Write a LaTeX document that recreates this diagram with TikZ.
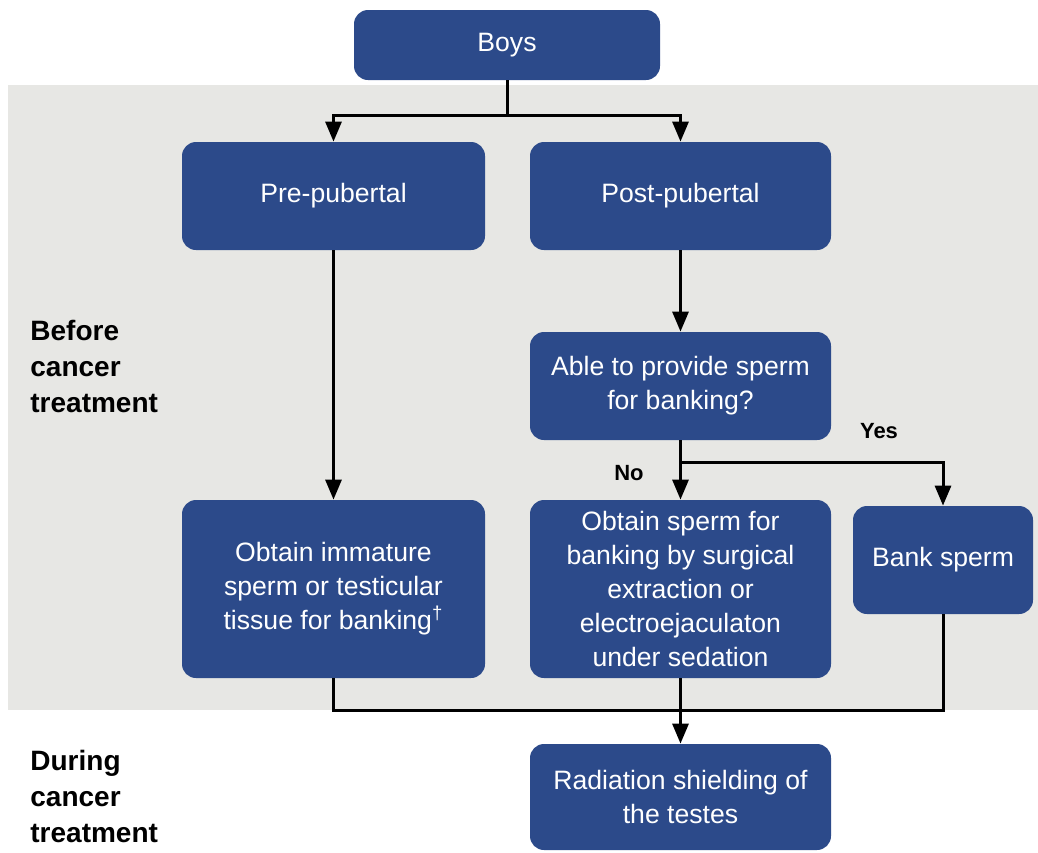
\documentclass[tikz,border=0pt]{standalone}
\usepackage{fontspec}
\setmainfont{Liberation Sans}
\usetikzlibrary{positioning,arrows.meta}
\definecolor{color_box_default}{HTML}{2C4A8A}
\definecolor{color_band_default}{HTML}{E7E7E4}

\begin{document}
\begin{tikzpicture}[x=0.5pt,y=-0.5pt,
		box/.style={rounded corners=7pt,fill=color_box_default,text=white,
			font=\fontsize{13.3}{17}\selectfont,align=center,inner sep=0pt},
		link/.style={line width=1.5pt,black},
		arrow/.style={link,-{Triangle[length=10pt,width=8pt]}},
		side/.style={font=\fontsize{14}{18}\bfseries\selectfont,align=left,inner sep=0pt,anchor=north west},
		answer/.style={font=\fontsize{11}{13}\bfseries\selectfont,inner sep=0pt}]
				\useasboundingbox (0,0) rectangle (1038,852);
				% Band behind the steps before treatment
				\fill[color_band_default] (8,85) rectangle (1038,710);

				% Boxes
				\node[box,minimum width=153pt,minimum height=35pt] (boys) at (507,45) {Boys};
				\node[box,minimum width=151.5pt,minimum height=54pt] (prepub) at (333.5,196) {Pre-pubertal};
				\node[box,minimum width=150.5pt,minimum height=54pt] (postpub) at (680.5,196) {Post-pubertal};
				\node[box,minimum width=150.5pt,minimum height=54pt] (able) at (680.5,386)
					{Able to provide sperm\\for banking?};
				\node[box,minimum width=151.5pt,minimum height=89pt] (immature) at (333.5,589)
					{Obtain immature\\sperm or testicular\\tissue for banking\textsuperscript{†}};
				\node[box,minimum width=150.5pt,minimum height=89pt] (surgical) at (680.5,589)
					{Obtain sperm for\\banking by surgical\\extraction or\\electroejaculaton\\under sedation};
				\node[box,minimum width=90pt,minimum height=54pt] (bank) at (943,560) {Bank sperm};
				\node[box,minimum width=150.5pt,minimum height=53pt] (radiation) at (680.5,797)
					{Radiation shielding of\\the testes};

				% Points
				\coordinate (topsplit) at (507,115);
				\coordinate (yessplit) at (680.5,462);
				\coordinate (merge) at (680.5,710);

				% Connectors
				\draw[link] (boys.south) -- (topsplit);
				\draw[arrow] (topsplit) -| (prepub.north);
				\draw[arrow] (topsplit) -| (postpub.north);
				\draw[arrow] (prepub.south) -- (immature.north);
				\draw[arrow] (postpub.south) -- (able.north);
				\draw[arrow] (able.south) -- (surgical.north);
				\draw[arrow] (yessplit) -| (bank.north);
				\draw[link] (immature.south) |- (merge) -| (bank.south);
				\draw[arrow] (surgical.south) -- (radiation.north);

				% Answers
				\node[answer] (no) at (629,473) {No};
				\node[answer] (yes) at (879,431) {Yes};

				% Phases
				\node[side] (before) at (30,320) {Before\\cancer\\treatment};
				\node[side] (during) at (30,750) {During\\cancer\\treatment};
			\end{tikzpicture}
\end{document}
